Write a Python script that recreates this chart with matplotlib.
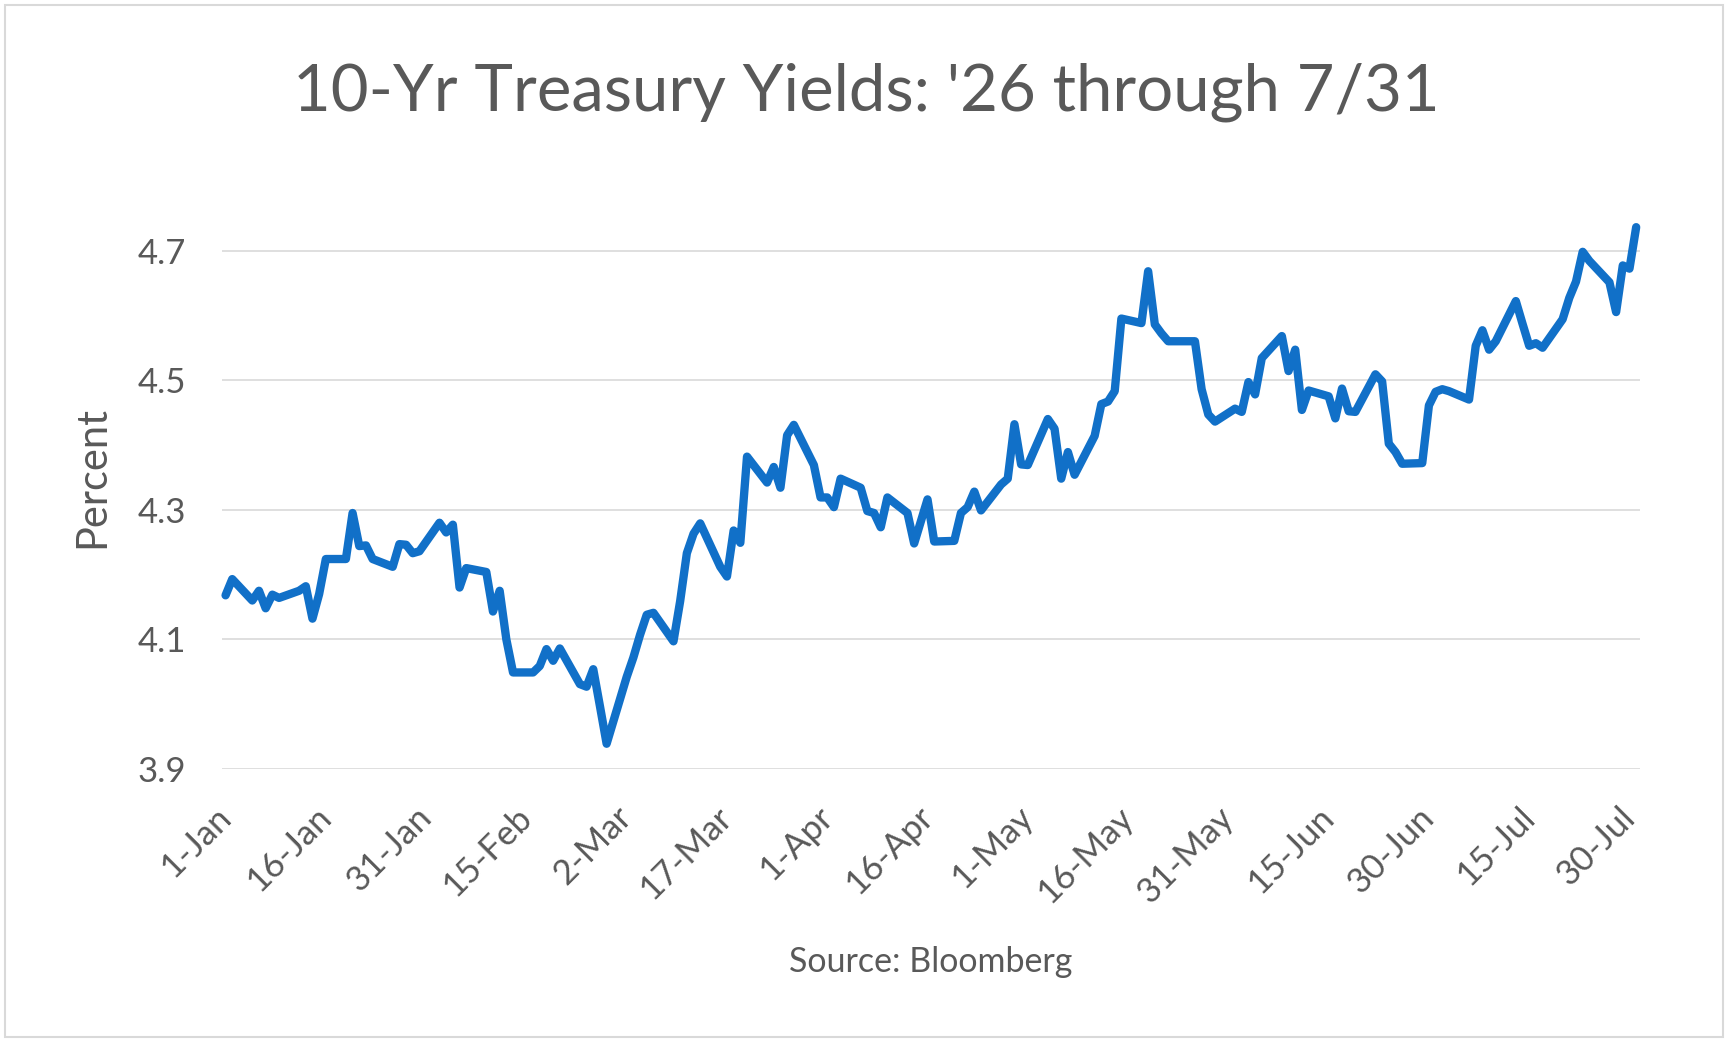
import matplotlib
matplotlib.use("Agg")
import matplotlib.pyplot as plt
from matplotlib.patches import Rectangle
import pandas as pd

# 10-yr yields, one row per week (Mon..Fri), first row is Thu 1-Jan / Fri 2-Jan
week_values = [
    [4.168, 4.193],
    [4.160, 4.175, 4.148, 4.169, 4.164],
    [4.175, 4.182, 4.132, 4.170, 4.224],
    [4.224, 4.295, 4.244, 4.245, 4.224],
    [4.212, 4.247, 4.246, 4.233, 4.236],
    [4.280, 4.265, 4.277, 4.180, 4.210],
    [4.204, 4.143, 4.175, 4.100, 4.049],
    [4.049, 4.059, 4.085, 4.067, 4.086],
    [4.031, 4.027, 4.054, 3.997, 3.939],
    [4.042, 4.072, 4.107, 4.138, 4.141],
    [4.097, 4.159, 4.233, 4.263, 4.279],
    [4.212, 4.197, 4.268, 4.249, 4.382],
    [4.342, 4.366, 4.334, 4.415, 4.431],
    [4.369, 4.319, 4.319, 4.304, 4.348],
    [4.334, 4.298, 4.295, 4.273, 4.319],
    [4.295, 4.248, 4.282, 4.316, 4.251],
    [4.252, 4.295, 4.304, 4.328, 4.299],
    [4.339, 4.348, 4.432, 4.370, 4.369],
    [4.440, 4.425, 4.348, 4.389, 4.354],
    [4.414, 4.463, 4.467, 4.483, 4.595],
    [4.588, 4.668, 4.586, 4.572, 4.560],
    [4.560, 4.560, 4.486, 4.447, 4.436],
    [4.456, 4.451, 4.497, 4.478, 4.534],
    [4.568, 4.514, 4.547, 4.454, 4.484],
    [4.475, 4.441, 4.487, 4.452, 4.451],
    [4.509, 4.498, 4.402, 4.389, 4.371],
    [4.372, 4.461, 4.482, 4.486, 4.483],
    [4.470, 4.553, 4.577, 4.547, 4.560],
    [4.622, 4.587, 4.553, 4.557, 4.550],
    [4.594, 4.627, 4.652, 4.698, 4.684],
    [4.651, 4.605, 4.677, 4.672, 4.736],
]
start_date = "2026-01-01"
end_date = "2026-07-31"

tick_dates = ["2026-01-01", "2026-01-16", "2026-01-31", "2026-02-15", "2026-03-02",
              "2026-03-17", "2026-04-01", "2026-04-16", "2026-05-01", "2026-05-16",
              "2026-05-31", "2026-06-15", "2026-06-30", "2026-07-15", "2026-07-30"]
tick_labels = ["1-Jan", "16-Jan", "31-Jan", "15-Feb", "2-Mar", "17-Mar", "1-Apr",
               "16-Apr", "1-May", "16-May", "31-May", "15-Jun", "30-Jun", "15-Jul",
               "30-Jul"]
y_ticks = [3.9, 4.1, 4.3, 4.5, 4.7]

title = "10-Yr Treasury Yields: '26 through 7/31"
y_title = "Percent"
source = "Source: Bloomberg"

yields = [v for week in week_values for v in week]
dates = pd.bdate_range(start_date, end_date)

plt.rcParams['font.family'] = ['Lato', 'DejaVu Sans']
grey = '#595959'

fig = plt.figure(figsize=(17.32, 10.45), dpi=100)
ax = fig.add_axes([0.1283, 0.2641, 0.8183, 0.5582])

ax.plot(dates, yields, color='#1170c8', lw=6.0,
        solid_joinstyle='round', solid_capstyle='round', clip_on=False, zorder=3)

half_day = pd.Timedelta(hours=12)
ax.set_xlim(pd.Timestamp(start_date) - half_day, pd.Timestamp(end_date) + half_day)
ax.set_ylim(3.9, 4.8)

ax.set_yticks(y_ticks)
ax.set_yticklabels([f"{t:.1f}" for t in y_ticks])
ax.set_xticks(pd.to_datetime(tick_dates))
ax.set_xticklabels(tick_labels, rotation=45, ha='right', va='center',
                   rotation_mode='anchor')

ax.yaxis.grid(True, color='#d9d9d9', lw=1.2)
ax.set_axisbelow(True)
for s in ax.spines.values():
    s.set_visible(False)
ax.tick_params(axis='both', length=0, labelsize=25, labelcolor=grey)
ax.tick_params(axis='y', pad=26)
ax.tick_params(axis='x', pad=31)

fig.text(0.5, 0.8938, title, ha='center', va='baseline', fontsize=47, color=grey)
fig.text(92 / 1732, 1 - 477 / 1045, y_title, rotation=90, ha='center', va='center',
         fontsize=30, color=grey)
fig.text(0.5374, 0.0699, source, ha='center', va='baseline', fontsize=24.5, color=grey)

fig.patches.append(Rectangle((5 / 1732, 0.0077), 1718 / 1732, 1032 / 1045,
                             transform=fig.transFigure, fill=False,
                             edgecolor='#d9d9d9', lw=1.5))

fig.savefig("out.png", dpi=100)
